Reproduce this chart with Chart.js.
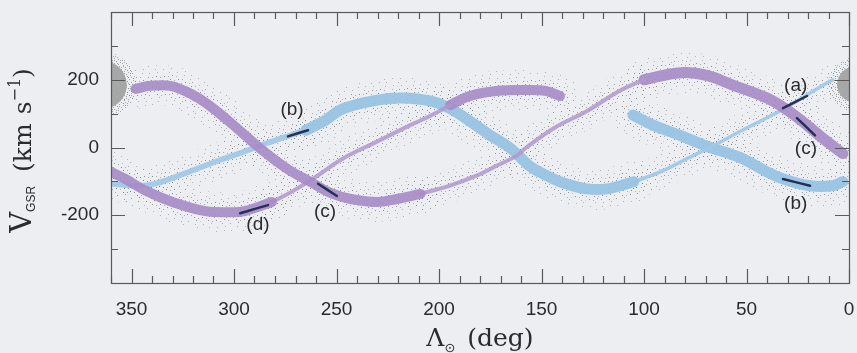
<!DOCTYPE html>
<html>
<head>
<meta charset="utf-8">
<script src="https://cdn.jsdelivr.net/npm/chart.js@4.4.0/dist/chart.umd.min.js"></script>
<style>
  html, body { margin: 0; padding: 0; background: #eceef2; }
  #sgrChart { display: block; }
</style>
</head>
<body>
<canvas id="sgrChart" width="857" height="353"></canvas>
<script>
// Sgr debris model: longitude from the Sun vs. galactocentric radial velocity
// every track is a list of [Lambda (deg), V_GSR (km/s)]

// purple arm that leaves the core going down through the middle
const purpleDownThick = [[348, 173], [341, 182], [331, 182], [324, 167], [316.6, 143], [309, 110], [298, 54],
  [286, -9], [274, -63], [262, -104], [253, -134], [243, -152], [230, -161], [220.5, -152], [209, -137]];
const purpleDownThin = [[209, -137], [195, -113], [182, -84], [172, -54], [162, -24], [158, -3], [144, 57],
  [128, 107], [112, 167], [100, 200]];
const purpleRightThick = [[100, 200], [82, 221], [69, 212], [57, 185], [40, 146], [30, 110], [20.5, 66],
  [12.7, 27], [3, -18]];

// purple arm entering at the bottom left, ending near Lambda = 140
const purpleLowThick = [[362, -66], [353, -93], [343, -128], [330, -161], [314, -188], [301, -191],
  [295, -188], [281.5, -161]];
const purpleLowThin = [[281.5, -161], [272, -131], [259.5, -84], [247, -33], [230, 18], [214, 66],
  [204.4, 93], [194.6, 125]];
const purpleTopThick = [[194.6, 125], [185, 152], [172, 167], [156, 170], [148, 167], [141, 152]];

// blue arm: long arc over the top, then the thin branch back up to the core
const blueLeftMid = [[362, -106], [347, -113], [338.5, -107], [322, -72], [309, -42], [295, -12],
  [281.5, 18], [265, 51]];
const blueArcThick = [[265, 51], [256, 78], [247, 114], [230, 140], [218, 146], [204, 137], [195, 116],
  [185, 78], [175, 36], [165, -3], [156, -54], [151, -72], [141, -101], [128, -122], [118, -122],
  [105, -101]];
const blueRiseThin = [[105, -101], [92, -72], [79, -33], [66, 6], [53, 48], [34, 107], [19, 161], [8, 200]];
const blueRightThick = [[105.4, 96], [95.6, 66], [82.4, 36], [69, 3], [53, -30], [40, -72], [32, -93],
  [19, -113], [8, -113], [3, -101]];

// the satellite core, which sits on the wrap at 0 / 360
const corePoints = [[364, 185], [-3, 186]];
const coreSizes = [24, 18];

// observed stream velocities
const obsA = [[32.2, 116], [20.5, 152]];
const obsCRight = [[25.4, 87], [16.6, 36]];
const obsBRight = [[32.2, -93], [19, -113]];
const obsBLeft = [[273.7, 33], [263.9, 51]];
const obsD = [[297, -194], [290.2, -182], [283.4, -170]];
const obsCLeft = [[259, -107], [249.8, -143]];

// tags written next to the observed pieces
const obsTags = [['(a)', 26, 182], ['(c)', 21, -3], ['(b)', 26, -167],
  ['(b)', 271.7, 110], ['(d)', 288.3, -227], ['(c)', 255.6, -191]];

const xTicks = [350, 300, 250, 200, 150, 100, 50, 0];
const yTicks = [200, 0, -200];

const purpleThick = 'rgba(166, 138, 198, 0.9)';
const purpleThin = 'rgba(176, 152, 205, 0.85)';
const blueThick = 'rgba(150, 194, 228, 0.92)';
const blueThin = 'rgba(160, 200, 231, 0.92)';
const obsColor = '#243056';
const inkColor = '#2b2b2b';

// grainy grey texture for the particle haze around each track
function speckle(count, alpha) {
  const tile = document.createElement('canvas');
  tile.width = 97;
  tile.height = 89;
  const c = tile.getContext('2d');
  c.fillStyle = 'rgba(120, 120, 120, ' + alpha + ')';
  for (let i = 1; i <= count; i++) {
    const px = (i * 0.7548776662) % 1 * tile.width;
    const py = (i * 0.5698402910) % 1 * tile.height;
    c.fillRect(Math.floor(px), Math.floor(py), 1, 1);
  }
  return c.createPattern(tile, 'repeat');
}
const hazeOuter = speckle(260, 0.5);
const hazeInner = speckle(560, 0.55);
const hazeCore = speckle(1400, 0.6);

function toPoints(arr) {
  return arr.map(p => ({ x: p[0], y: p[1] }));
}

function track(arr, color, width, order) {
  return {
    data: toPoints(arr),
    borderColor: color,
    borderWidth: width,
    pointRadius: 0,
    fill: false,
    tension: 0.4,
    borderCapStyle: 'round',
    borderJoinStyle: 'round',
    clip: 0,
    order: order
  };
}

// [track, colour, line width]
const bands = [
  [purpleDownThick, purpleThick, 10],
  [purpleDownThin, purpleThin, 4],
  [purpleRightThick, purpleThick, 11],
  [purpleLowThick, purpleThick, 10],
  [purpleLowThin, purpleThin, 4],
  [purpleTopThick, purpleThick, 10],
  [blueLeftMid, blueThin, 5.5],
  [blueArcThick, blueThick, 11],
  [blueRiseThin, blueThin, 3.5],
  [blueRightThick, blueThick, 11]
];

const datasets = [];
bands.forEach(b => {
  datasets.push(track(b[0], hazeOuter, b[2] + 30, 5));
  datasets.push(track(b[0], hazeInner, b[2] + 12, 4));
});
datasets.push({
  data: toPoints(corePoints),
  showLine: false,
  pointRadius: coreSizes.map(r => r + 9),
  pointBorderWidth: 0,
  pointBackgroundColor: hazeCore,
  clip: 0,
  order: 4
});
datasets.push({
  data: toPoints(corePoints),
  showLine: false,
  pointRadius: coreSizes,
  pointBorderWidth: 0,
  pointBackgroundColor: 'rgba(160, 160, 160, 0.9)',
  clip: 0,
  order: 3
});
bands.forEach(b => datasets.push(track(b[0], b[1], b[2], 2)));
[obsA, obsCRight, obsBRight, obsBLeft, obsD, obsCLeft].forEach(o => {
  const d = track(o, obsColor, 2.5, 1);
  d.tension = 0.3;
  datasets.push(d);
});

// inward tick marks on all four sides, plus the frame
const frameTicks = {
  id: 'frameTicks',
  afterDatasetsDraw(chart) {
    const { ctx, chartArea: a, scales } = chart;
    const xs = scales.x, ys = scales.y;
    ctx.save();
    ctx.strokeStyle = '#5a5a5a';
    ctx.lineWidth = 1.2;
    for (let v = 0; v <= 360; v += 10) {
      const px = Math.round(xs.getPixelForValue(v)) + 0.5;
      const len = v % 50 === 0 ? 14 : 7;
      ctx.beginPath();
      ctx.moveTo(px, a.bottom); ctx.lineTo(px, a.bottom - len);
      ctx.moveTo(px, a.top); ctx.lineTo(px, a.top + len);
      ctx.stroke();
    }
    for (let v = -400; v <= 400; v += 100) {
      const py = Math.round(ys.getPixelForValue(v)) + 0.5;
      const len = v % 200 === 0 ? 14 : 7;
      ctx.beginPath();
      ctx.moveTo(a.left, py); ctx.lineTo(a.left + len, py);
      ctx.moveTo(a.right, py); ctx.lineTo(a.right - len, py);
      ctx.stroke();
    }
    ctx.strokeRect(Math.round(a.left) + 0.5, Math.round(a.top) + 0.5,
      Math.round(a.right - a.left), Math.round(a.bottom - a.top));
    ctx.restore();
  }
};

// draws a row of text pieces (font, text, baseline shift, gap after) centred on 0
function drawPieces(ctx, pieces) {
  let total = 0;
  pieces.forEach(p => {
    ctx.font = p.font;
    p.w = ctx.measureText(p.text).width + (p.gap || 0);
    total += p.w;
  });
  let cx = -total / 2;
  pieces.forEach(p => {
    ctx.font = p.font;
    ctx.fillText(p.text, cx, p.dy || 0);
    cx += p.w;
  });
}

const textLayer = {
  id: 'textLayer',
  afterDraw(chart) {
    const { ctx, chartArea: a, scales } = chart;
    ctx.save();
    ctx.fillStyle = inkColor;

    // tags for the observed pieces
    ctx.font = '19px "Liberation Sans", Arial, sans-serif';
    ctx.textAlign = 'center';
    ctx.textBaseline = 'middle';
    obsTags.forEach(t => {
      ctx.fillText(t[0], scales.x.getPixelForValue(t[1]), scales.y.getPixelForValue(t[2]));
    });

    ctx.textAlign = 'left';
    ctx.textBaseline = 'alphabetic';
    const serif = '"DejaVu Serif", "Liberation Serif", serif';

    // x axis title
    ctx.save();
    ctx.translate((a.left + a.right) / 2, 346);
    drawPieces(ctx, [
      { text: 'Λ', font: '25px ' + serif },
      { text: '⊙', font: '13px "DejaVu Sans", sans-serif', dy: 6, gap: 12 },
      { text: '(deg)', font: '25px ' + serif }
    ]);
    ctx.restore();

    // y axis title
    ctx.save();
    ctx.translate(31, (a.top + a.bottom) / 2 + 3);
    ctx.rotate(-Math.PI / 2);
    drawPieces(ctx, [
      { text: 'V', font: '29px ' + serif },
      { text: 'GSR', font: '12px "Liberation Sans", Arial, sans-serif', dy: 4, gap: 14 },
      { text: '(km', font: '25px ' + serif, gap: 9 },
      { text: 's', font: '25px ' + serif },
      { text: '−1', font: '16px ' + serif, dy: -11 },
      { text: ')', font: '25px ' + serif }
    ]);
    ctx.restore();
    ctx.restore();
  }
};

// fixed axis sizes, and no extra room for labels at the ends
function fixBox(size, vertical) {
  return s => {
    if (vertical) s.width = size; else s.height = size;
    s.paddingTop = 0; s.paddingBottom = 0; s.paddingLeft = 0; s.paddingRight = 0;
  };
}

new Chart(document.getElementById('sgrChart'), {
  type: 'line',
  data: { datasets: datasets },
  options: {
    responsive: false,
    devicePixelRatio: 1,
    animation: false,
    events: [],
    layout: { autoPadding: false, padding: { top: 12, right: 8, left: 0, bottom: 0 } },
    plugins: { legend: { display: false }, tooltip: { enabled: false } },
    scales: {
      x: {
        type: 'linear',
        reverse: true,
        min: 0,
        max: 360,
        grid: { display: false, drawTicks: false },
        border: { display: false },
        afterFit: fixBox(70, false),
        afterBuildTicks: s => { s.ticks = xTicks.map(v => ({ value: v })); },
        ticks: {
          autoSkip: false,
          maxRotation: 0,
          padding: 15,
          color: inkColor,
          font: { family: '"Liberation Sans", Arial, sans-serif', size: 19 }
        }
      },
      y: {
        type: 'linear',
        min: -400,
        max: 400,
        grid: { display: false, drawTicks: false },
        border: { display: false },
        afterFit: fixBox(111, true),
        afterBuildTicks: s => { s.ticks = yTicks.map(v => ({ value: v })); },
        ticks: {
          autoSkip: false,
          padding: 12,
          color: inkColor,
          font: { family: '"Liberation Sans", Arial, sans-serif', size: 19 }
        }
      }
    }
  },
  plugins: [frameTicks, textLayer]
});
</script>
</body>
</html>
